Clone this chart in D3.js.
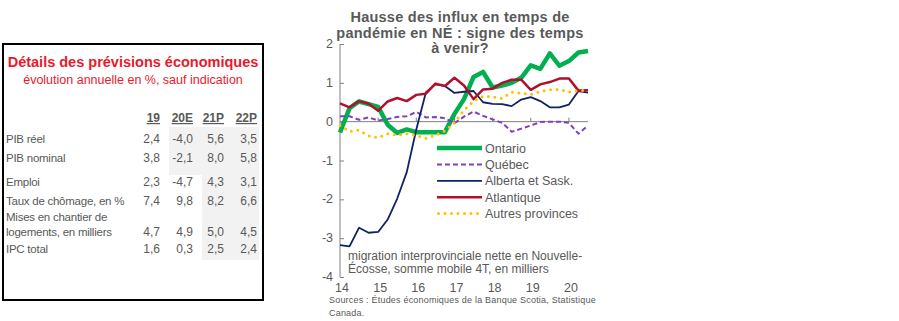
<!DOCTYPE html>
<html>
<head>
<meta charset="utf-8">
<script src="https://cdn.jsdelivr.net/npm/d3@7"></script>
<style>
  body { margin: 0; background: #fff; }
  svg { display: block; font-family: "Liberation Sans", Arial, sans-serif; }
</style>
</head>
<body>
<div id="chart"></div>
<script>
// table data
const tableCols = ['19', '20E', '21P', '22P'];
const tableRows = [['PIB réel'], ['PIB nominal'], ['Emploi'], ['Taux de chômage, en %'],
    ['Mises en chantier de', 'logements, en milliers'], ['IPC total']];
const tableVals = [
    [2.4, -4.0, 5.6, 3.5],
    [3.8, -2.1, 8.0, 5.8],
    [2.3, -4.7, 4.3, 3.1],
    [7.4, 9.8, 8.2, 6.6],
    [4.7, 4.9, 5.0, 4.5],
    [1.6, 0.3, 2.5, 2.4]
];

// chart data, quarterly 2014T1 - 2020T3
const quarters = [];
for (let y = 2014; y <= 2020; y++) {
    for (let q = 1; q <= 4; q++) {
        if (y === 2020 && q > 3) break;
        quarters.push(y + 'T' + q);
    }
}
const years = ['14', '15', '16', '17', '18', '19', '20'];
const yTicks = [2, 1, 0, -1, -2, -3, -4];

const ontario = [-0.28, 0.35, 0.52, 0.45, 0.38, -0.08, -0.29, -0.2, -0.27, -0.27, -0.27, -0.27,
    0.2, 0.58, 1.15, 1.28, 0.88, 0.93, 1.0, 1.13, 1.45, 1.36, 1.76, 1.44, 1.56, 1.78, 1.82];
const quebec = [0.14, 0.14, 0.05, 0.11, 0.03, 0.07, 0.12, 0.14, 0.25, 0.11, 0.12, 0.09,
    -0.04, 0.13, 0.26, 0.15, 0.06, -0.03, -0.26, -0.18, -0.1, -0.01, 0.0, 0.0, -0.03, -0.31, -0.1];
const alberta = [-3.18, -3.21, -2.73, -2.86, -2.84, -2.52, -1.98, -1.3, -0.2, 0.75, 0.96, 0.92,
    0.74, 0.77, 0.79, 0.5, 0.46, 0.45, 0.4, 0.57, 0.63, 0.53, 0.37, 0.37, 0.44, 0.79, 0.75];
const atlantique = [0.47, 0.37, 0.53, 0.46, 0.28, 0.52, 0.61, 0.53, 0.69, 0.72, 0.98, 0.92,
    1.13, 0.93, 0.58, 0.83, 0.85, 1.0, 1.08, 1.08, 0.82, 0.96, 1.02, 1.11, 1.11, 0.8, 0.81];
const autres = [-0.1, -0.25, -0.22, -0.37, -0.41, -0.31, -0.35, -0.31, -0.36, -0.43, -0.35, -0.24,
    -0.03, 0.3, 0.52, 0.66, 0.64, 0.6, 0.76, 0.73, 0.7, 0.78, 0.82, 0.83, 0.76, 0.8, 0.8];

const series = [
    { name: 'Ontario', values: ontario, color: '#00b050', width: 4.5, dash: null, cap: 'butt' },
    { name: 'Québec', values: quebec, color: '#7f3fbf', width: 2, dash: '5,3', cap: 'butt' },
    { name: 'Alberta et Sask.', values: alberta, color: '#0d2366', width: 1.8, dash: null, cap: 'butt' },
    { name: 'Atlantique', values: atlantique, color: '#b0102c', width: 2.5, dash: null, cap: 'butt' },
    { name: 'Autres provinces', values: autres, color: '#ffc000', width: 3, dash: '0,6.5', cap: 'round' }
];

const width = 899;
const height = 321;
const grey = '#595959';
const red = '#e8192c';

const svg = d3.select('#chart').append('svg')
    .attr('width', width)
    .attr('height', height);
svg.append('rect').attr('width', width).attr('height', height).attr('fill', '#fff');

// ---- table on the left
const locale = d3.formatLocale({ decimal: ',', thousands: ' ', grouping: [3], currency: ['', ''], minus: '-' });
const fmt = locale.format('.1f');
const colRight = [160, 193, 224, 257];
const rowBase = [143, 162, 186, 205, 236, 253];

const table = svg.append('g');
table.append('rect')
    .attr('x', 169).attr('y', 127).attr('width', 33).attr('height', 48)
    .attr('fill', '#f2f2f2');
table.append('rect')
    .attr('x', 202).attr('y', 127).attr('width', 57).attr('height', 133)
    .attr('fill', '#f2f2f2');
table.append('rect')
    .attr('x', 3).attr('y', 44).attr('width', 260).attr('height', 256)
    .attr('fill', 'none').attr('stroke', '#000').attr('stroke-width', 2);

table.append('text')
    .attr('x', 133).attr('y', 67)
    .attr('text-anchor', 'middle')
    .attr('fill', red)
    .style('font-size', '14.5px')
    .style('font-weight', 'bold')
    .text('Détails des prévisions économiques');
table.append('text')
    .attr('x', 133).attr('y', 84)
    .attr('text-anchor', 'middle')
    .attr('fill', red)
    .style('font-size', '12.5px')
    .text('évolution annuelle en %, sauf indication');

table.selectAll('.col-head')
    .data(tableCols)
    .enter()
    .append('text')
    .attr('class', 'col-head')
    .attr('x', (d, i) => colRight[i])
    .attr('y', 122)
    .attr('text-anchor', 'end')
    .attr('fill', grey)
    .style('font-size', '12px')
    .style('font-weight', 'bold')
    .style('text-decoration', 'underline')
    .text(d => d);

tableRows.forEach((lines, r) => {
    lines.forEach((line, k) => {
        table.append('text')
            .attr('x', 6)
            .attr('y', rowBase[r] - (lines.length - 1 - k) * 15)
            .attr('fill', grey)
            .style('font-size', '11.5px')
            .style('letter-spacing', '-0.25px')
            .text(line);
    });
    tableVals[r].forEach((v, c) => {
        table.append('text')
            .attr('x', colRight[c])
            .attr('y', rowBase[r])
            .attr('text-anchor', 'end')
            .attr('fill', grey)
            .style('font-size', '12px')
            .text(fmt(v));
    });
});

// ---- line chart
const plotLeft = 340;
const plotRight = 588;
const plotTop = 44;
const plotBottom = 277;

const scaleX = d3.scalePoint()
    .domain(quarters)
    .range([plotLeft, plotRight]);
const scaleY = d3.scaleLinear()
    .domain([-4, 2])
    .range([plotBottom, plotTop]);

const title = ['Hausse des influx en temps de', 'pandémie en NÉ : signe des temps', 'à venir?'];
svg.append('g').selectAll('text')
    .data(title)
    .enter()
    .append('text')
    .attr('x', 460)
    .attr('y', (d, i) => 22 + i * 15.5)
    .attr('text-anchor', 'middle')
    .attr('fill', grey)
    .style('font-size', '14.5px')
    .style('font-weight', 'bold')
    .style('letter-spacing', '0.25px')
    .text(d => d);

// y axis, ticks pointing into the plot
const yAxis = svg.append('g')
    .attr('transform', `translate(${plotLeft}, 0)`)
    .call(d3.axisRight(scaleY).tickValues(yTicks).tickSize(4).tickFormat(''));
yAxis.select('.domain').remove();
yAxis.selectAll('line').attr('stroke', '#808080');
svg.append('line')
    .attr('x1', plotLeft).attr('x2', plotLeft)
    .attr('y1', scaleY(2)).attr('y2', scaleY(-4))
    .attr('stroke', '#808080').attr('stroke-width', 1);
svg.append('g').selectAll('text')
    .data(yTicks)
    .enter()
    .append('text')
    .attr('x', 333)
    .attr('y', d => scaleY(d) + 4)
    .attr('text-anchor', 'end')
    .attr('fill', grey)
    .style('font-size', '12.5px')
    .text(d => String(d));

// x axis on the zero line
const q1 = years.map(y => '20' + y + 'T1');
svg.append('line')
    .attr('x1', plotLeft).attr('x2', plotRight)
    .attr('y1', scaleY(0)).attr('y2', scaleY(0))
    .attr('stroke', '#808080').attr('stroke-width', 1);
svg.append('g').selectAll('line')
    .data(q1.slice(1))
    .enter()
    .append('line')
    .attr('x1', d => scaleX(d)).attr('x2', d => scaleX(d))
    .attr('y1', scaleY(0)).attr('y2', scaleY(0) - 4)
    .attr('stroke', '#808080');
svg.append('g').selectAll('text')
    .data(years)
    .enter()
    .append('text')
    .attr('x', (d, i) => scaleX(q1[i]) + 2)
    .attr('y', 292)
    .attr('text-anchor', 'middle')
    .attr('fill', grey)
    .style('font-size', '12.5px')
    .text(d => d);

// lines
const line = d3.line()
    .x((d, i) => scaleX(quarters[i]))
    .y(d => scaleY(d));
svg.append('g').selectAll('path')
    .data(series)
    .enter()
    .append('path')
    .attr('d', d => line(d.values))
    .attr('fill', 'none')
    .attr('stroke', d => d.color)
    .attr('stroke-width', d => d.width)
    .attr('stroke-dasharray', d => d.dash)
    .attr('stroke-linecap', d => d.cap)
    .attr('stroke-linejoin', 'round');

// legend
const legend = svg.append('g').selectAll('g')
    .data(series)
    .enter()
    .append('g')
    .attr('transform', (d, i) => `translate(437, ${148 + i * 16.4})`);
legend.append('line')
    .attr('x1', d => d.cap === 'round' ? 1.5 : 0)
    .attr('x2', 45)
    .attr('stroke', d => d.color)
    .attr('stroke-width', d => d.width)
    .attr('stroke-dasharray', d => d.dash)
    .attr('stroke-linecap', d => d.cap);
legend.append('text')
    .attr('x', 48)
    .attr('y', 4.5)
    .attr('fill', grey)
    .style('font-size', '12.5px')
    .text(d => d.name);

// notes
const note = ['migration interprovinciale nette en Nouvelle-', 'Écosse, somme mobile 4T, en milliers'];
svg.append('g').selectAll('text')
    .data(note)
    .enter()
    .append('text')
    .attr('x', 348)
    .attr('y', (d, i) => 260 + i * 12.5)
    .attr('fill', grey)
    .style('font-size', '12px')
    .text(d => d);

const sources = ['Sources : Études économiques de la Banque Scotia, Statistique', 'Canada.'];
svg.append('g').selectAll('text')
    .data(sources)
    .enter()
    .append('text')
    .attr('x', 329)
    .attr('y', (d, i) => 303 + i * 12.5)
    .attr('fill', grey)
    .style('font-size', '9px')
    .style('letter-spacing', '0.2px')
    .text(d => d);
</script>
</body>
</html>
